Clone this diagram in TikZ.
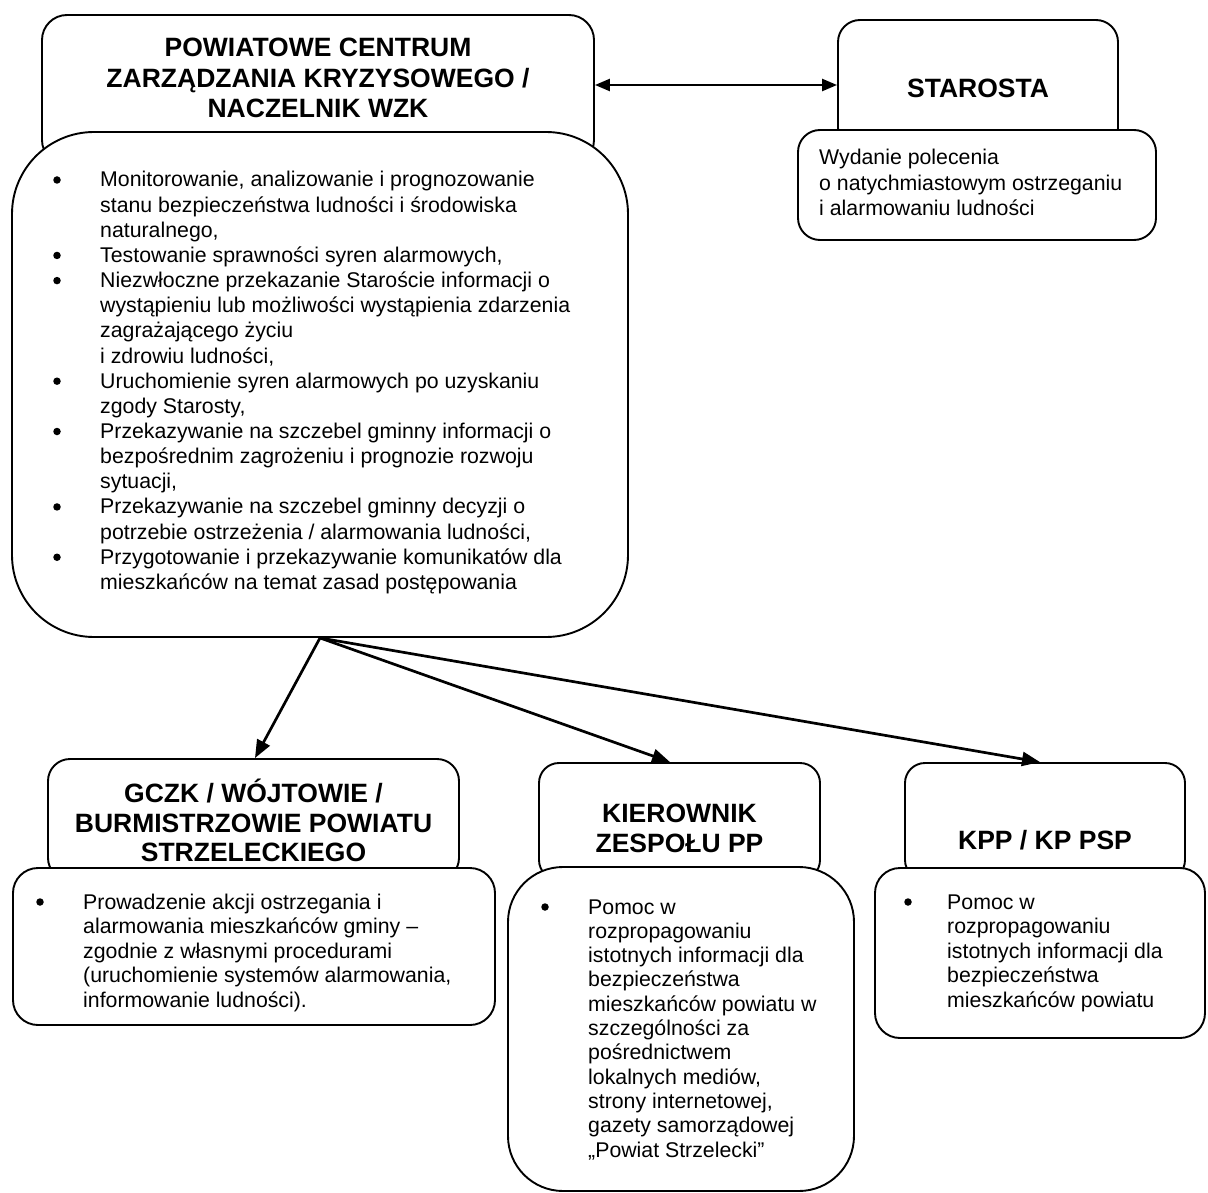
\documentclass[tikz,border=0pt]{standalone}
\usepackage{fontspec}
\setmainfont{Liberation Sans}
\usetikzlibrary{arrows.meta}
\begin{document}
\begin{tikzpicture}[x=1pt,y=-1pt,
  box/.style={draw=black, line width=1.9pt, fill=white, rounded corners=#1, inner sep=0pt},
  body/.style={anchor=base west, inner sep=0pt, font=\fontsize{21.3}{25}\selectfont},
  bul/.style={circle, fill=black, draw=none, inner sep=0pt, minimum size=7.5pt},
  ttl/.style={anchor=base, inner sep=0pt, font=\fontsize{26.5}{30}\selectfont\bfseries},
  arr/.style={line width=2.7pt, -{Triangle[length=18pt,width=14pt]}},
  darr/.style={line width=2.4pt, {Triangle[length=15pt,width=12pt]}-{Triangle[length=15pt,width=12pt]}}]
\useasboundingbox (0,0) rectangle (1208,1193);

% ---------- PCZK ----------
\node[box=25pt, minimum width=552pt, minimum height=150pt] (pczk) at (318,90) {};
\node[box=82pt, minimum width=616pt, minimum height=505pt] (big) at (320,384.5) {};
\node[ttl] (t1) at (318,56.5) {POWIATOWE CENTRUM};
\node[ttl] (t2) at (318,87.5) {ZARZĄDZANIA KRYZYSOWEGO /};
\node[ttl] (t3) at (318,118) {NACZELNIK WZK};
\foreach \t [count=\i from 0] in {
  {Monitorowanie, analizowanie i prognozowanie},
  {stanu bezpieczeństwa ludności i środowiska},
  {naturalnego,},
  {Testowanie sprawności syren alarmowych,},
  {Niezwłoczne przekazanie Staroście informacji o},
  {wystąpieniu lub możliwości wystąpienia zdarzenia},
  {zagrażającego życiu},
  {i zdrowiu ludności,},
  {Uruchomienie syren alarmowych po uzyskaniu},
  {zgody Starosty,},
  {Przekazywanie na szczebel gminny informacji o},
  {bezpośrednim zagrożeniu i prognozie rozwoju},
  {sytuacji,},
  {Przekazywanie na szczebel gminny decyzji o},
  {potrzebie ostrzeżenia / alarmowania ludności,},
  {Przygotowanie i przekazywanie komunikatów dla},
  {mieszkańców na temat zasad postępowania}}
  \node[body] (m\i) at (100,{187+\i*25.15}) {\t};
\foreach \i in {0,3,4,8,10,13,15}
  \node[bul] (mb\i) at (57,{180+\i*25.15}) {};

% ---------- STAROSTA ----------
\node[box=22pt, minimum width=280pt, minimum height=130pt] (star) at (978,85) {};
\node[box=22pt, minimum width=358pt, minimum height=110pt] (starl) at (977,185) {};
\node[ttl] (st) at (978,97.5) {STAROSTA};
\foreach \t [count=\i from 0] in {
  {Wydanie polecenia},
  {o natychmiastowym ostrzeganiu},
  {i alarmowaniu ludności}}
  \node[body] (s\i) at (819,{165+\i*25.3}) {\t};

% ---------- GCZK ----------
\node[box=22pt, minimum width=411pt, minimum height=121pt] (gczk) at (253.5,819.5) {};
\node[box=25pt, minimum width=482pt, minimum height=157pt] (gczkl) at (254,946.5) {};
\node[ttl] (g1) at (253.5,802.5) {GCZK / WÓJTOWIE /};
\node[ttl] (g2) at (253.5,832) {BURMISTRZOWIE POWIATU};
\node[ttl] (g3) at (253.5,861.5) {STRZELECKIEGO};
\foreach \t [count=\i from 0] in {
  {Prowadzenie akcji ostrzegania i},
  {alarmowania mieszkańców gminy –},
  {zgodnie z własnymi procedurami},
  {(uruchomienie systemów alarmowania,},
  {informowanie ludności).}}
  \node[body] (g\i) at (83,{909+\i*24.5}) {\t};
\node[bul] (gb) at (40,902) {};

% ---------- KIEROWNIK ----------
\node[box=20pt, minimum width=281pt, minimum height=117pt] (kier) at (679.5,821.5) {};
\node[box=55pt, minimum width=346pt, minimum height=324pt] (kierl) at (681,1029) {};
\node[ttl] (k1) at (679.5,822.5) {KIEROWNIK};
\node[ttl] (k2) at (679.5,852.5) {ZESPOŁU PP};
\foreach \t [count=\i from 0] in {
  {Pomoc w},
  {rozpropagowaniu},
  {istotnych informacji dla},
  {bezpieczeństwa},
  {mieszkańców powiatu w},
  {szczególności za},
  {pośrednictwem},
  {lokalnych mediów,},
  {strony internetowej,},
  {gazety samorządowej},
  {„Powiat Strzelecki”}}
  \node[body] (k\i) at (588,{914+\i*24.3}) {\t};
\node[bul] (kb) at (545,907) {};

% ---------- KPP ----------
\node[box=20pt, minimum width=280pt, minimum height=117pt] (kpp) at (1045,821.5) {};
\node[box=25pt, minimum width=330pt, minimum height=170pt] (kppl) at (1040,953) {};
\node[ttl] (p1) at (1045,849.5) {KPP / KP PSP};
\foreach \t [count=\i from 0] in {
  {Pomoc w},
  {rozpropagowaniu},
  {istotnych informacji dla},
  {bezpieczeństwa},
  {mieszkańców powiatu}}
  \node[body] (p\i) at (947,{909+\i*24.5}) {\t};
\node[bul] (pb) at (908,902) {};

% ---------- connectors ----------
\draw[darr] ([yshift=5pt]pczk.east) -- (star.west);
\draw[arr] (big.south) -- ([xshift=1.5pt]gczk.north);
\draw[arr] (big.south) -- ([xshift=-9.5pt]kier.north);
\draw[arr] (big.south) -- ([xshift=-5pt]kpp.north);
\end{tikzpicture}
\end{document}
